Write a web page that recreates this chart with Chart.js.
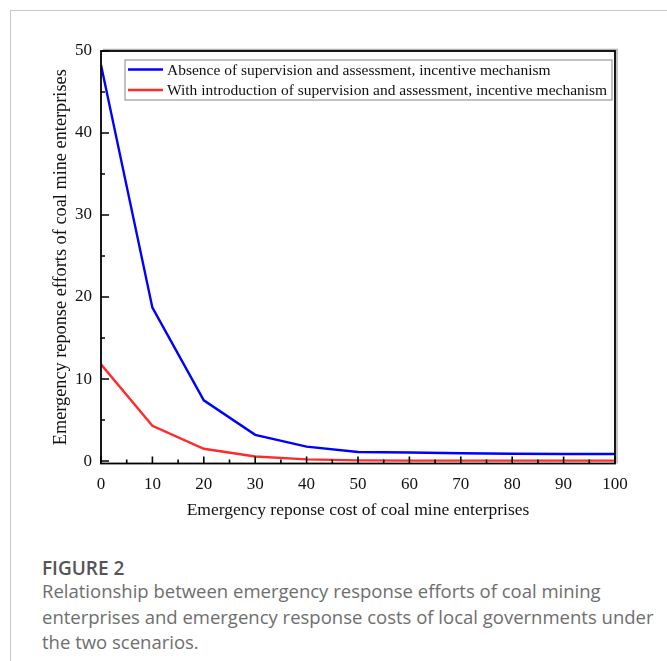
<!DOCTYPE html>
<html>
<head>
<meta charset="utf-8">
<script src="https://cdn.jsdelivr.net/npm/chart.js@4/dist/chart.umd.min.js"></script>
<style>
  html, body { margin: 0; padding: 0; background: #fff; }
  body { width: 667px; height: 661px; position: relative; overflow: hidden; }
  #frameTop { position: absolute; left: 10px; top: 10px; width: 657px; height: 1px; background: #c8c8c8; }
  #frameLeft { position: absolute; left: 10px; top: 10px; width: 1px; height: 651px; background: #c8c8c8; }
  #wrap { position: absolute; left: 0; top: 0; width: 667px; height: 540px; }
  #figLabel { position: absolute; left: 42px; top: 555px; font-family: "Open Sans", sans-serif; font-size: 19px; font-weight: 600; color: #555; }
  #caption { position: absolute; left: 42px; top: 578px; width: 618px; font-family: "Open Sans", sans-serif; font-size: 18.5px; font-weight: 400; color: #6e6e6e; line-height: 25.7px; }
</style>
</head>
<body>
<div id="frameTop"></div>
<div id="frameLeft"></div>
<div id="wrap"><canvas id="c" width="667" height="540"></canvas></div>
<div id="figLabel">FIGURE 2</div>
<div id="caption">Relationship between emergency response efforts of coal mining enterprises and emergency response costs of local governments under the two scenarios.</div>
<script>
// Emergency response cost (x) and effort values for the two scenarios
const costs = [0, 10, 20, 30, 40, 50, 60, 70, 80, 90, 100];
const effortAbsent = [48.3, 18.7, 7.4, 3.2, 1.75, 1.1, 1.05, 0.95, 0.88, 0.85, 0.85];
const effortIntroduced = [11.8, 4.3, 1.5, 0.55, 0.2, 0.08, 0.05, 0.05, 0.05, 0.05, 0.05];
const seriesNames = [
  "Absence of supervision and assessment, incentive mechanism",
  "With introduction of supervision and assessment, incentive mechanism"
];
const xTicks = [0, 10, 20, 30, 40, 50, 60, 70, 80, 90, 100];
const yTicks = [0, 10, 20, 30, 40, 50];
const xMinor = [5, 15, 25, 35, 45, 55, 65, 75, 85, 95];
const yMinor = [5, 15, 25, 35, 45];

const serif = '"Liberation Serif", "Times New Roman", serif';

function toPoints(xs, ys) { return xs.map((x, i) => ({ x: x, y: ys[i] })); }

// Frame, inward ticks and boxed legend
const decor = {
  id: 'decor',
  afterDatasetsDraw(chart) {
    const { ctx, chartArea: a, scales: { x, y } } = chart;
    ctx.save();
    // soft shadow on right side of the frame
    ctx.strokeStyle = '#b0b0b0';
    ctx.lineWidth = 1.5;
    ctx.beginPath();
    ctx.moveTo(a.left + 2, a.top - 1.5);
    ctx.lineTo(a.right + 2, a.top - 1.5);
    ctx.lineTo(a.right + 2, a.bottom);
    ctx.stroke();
    // frame
    ctx.strokeStyle = '#000';
    ctx.lineWidth = 1.8;
    ctx.strokeRect(a.left, a.top, a.right - a.left, a.bottom - a.top);
    // inward ticks
    ctx.lineWidth = 1.6;
    ctx.beginPath();
    xTicks.forEach(v => { const p = x.getPixelForValue(v); ctx.moveTo(p, a.bottom); ctx.lineTo(p, a.bottom - 7); });
    xMinor.forEach(v => { const p = x.getPixelForValue(v); ctx.moveTo(p, a.bottom); ctx.lineTo(p, a.bottom - 4); });
    yTicks.forEach(v => { const p = y.getPixelForValue(v); ctx.moveTo(a.left, p); ctx.lineTo(a.left + 8, p); });
    yMinor.forEach(v => { const p = y.getPixelForValue(v); ctx.moveTo(a.left, p); ctx.lineTo(a.left + 4, p); });
    ctx.stroke();
    // legend box
    const lx = 125, ly = 60, lw = 487, lh = 40;
    ctx.strokeStyle = '#9a9a9a';
    ctx.lineWidth = 1.2;
    ctx.fillStyle = '#fff';
    ctx.fillRect(lx, ly, lw, lh);
    ctx.strokeRect(lx, ly, lw, lh);
    ctx.font = '15.5px ' + serif;
    ctx.textBaseline = 'middle';
    ctx.textAlign = 'left';
    chart.data.datasets.forEach((ds, i) => {
      const yy = ly + 9.5 + i * 20.5;
      ctx.strokeStyle = ds.borderColor;
      ctx.lineWidth = 2.3;
      ctx.beginPath();
      ctx.moveTo(lx + 3, yy);
      ctx.lineTo(lx + 38, yy);
      ctx.stroke();
      ctx.fillStyle = '#111';
      ctx.fillText(ds.label, lx + 42, yy + 1);
    });
    ctx.restore();
  }
};

new Chart(document.getElementById('c'), {
  type: 'line',
  data: {
    datasets: [
      { label: seriesNames[0], data: toPoints(costs, effortAbsent), borderColor: '#0000ff', borderWidth: 2.4, pointRadius: 0, tension: 0, fill: false },
      { label: seriesNames[1], data: toPoints(costs, effortIntroduced), borderColor: '#ff2a2a', borderWidth: 2.4, pointRadius: 0, tension: 0, fill: false }
    ]
  },
  options: {
    responsive: false,
    animation: false,
    layout: { padding: { left: 0, right: 52, top: 51, bottom: 0 } },
    plugins: { legend: { display: false }, tooltip: { enabled: false } },
    scales: {
      x: {
        type: 'linear', min: 0, max: 100,
        afterBuildTicks: s => { s.ticks = xTicks.map(v => ({ value: v })); },
        grid: { display: false },
        border: { display: false },
        ticks: { color: '#111', font: { family: serif, size: 17 }, padding: 2.5, maxRotation: 0 },
        title: { display: true, text: 'Emergency reponse cost of coal mine enterprises', color: '#111', font: { family: serif, size: 17.5 }, padding: { top: 6, bottom: 19 } },
        afterFit: s => { s.height = 76.5; }
      },
      y: {
        type: 'linear', min: -0.3, max: 50,
        afterBuildTicks: s => { s.ticks = yTicks.map(v => ({ value: v })); },
        grid: { display: false },
        border: { display: false },
        ticks: { color: '#111', font: { family: serif, size: 17 }, padding: 1 },
        title: { display: true, text: 'Emergency reponse efforts of coal mine enterprises', color: '#111', font: { family: serif, size: 18.3 }, padding: { top: 50, bottom: 0 } },
        afterFit: s => { s.width = 101; }
      }
    }
  },
  plugins: [decor]
});
</script>
</body>
</html>
